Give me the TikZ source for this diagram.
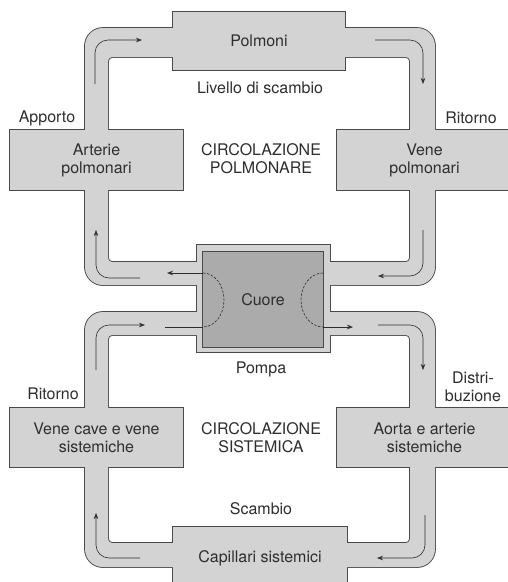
\documentclass[tikz,border=0pt]{standalone}
\usepackage{fontspec}
\setmainfont{TeX Gyre Heros}
\usetikzlibrary{arrows.meta}
\pgfdeclarelayer{outline}
\pgfdeclarelayer{fillarea}
\pgfsetlayers{outline,fillarea,main}
\definecolor{ringfill}{HTML}{D3D3D3}
\definecolor{edge}{HTML}{4A4A4A}
\definecolor{heartfill}{HTML}{ABABAB}
\definecolor{ink}{HTML}{2E2E2E}
\begin{document}
\begin{tikzpicture}[x=1pt,y=-1pt,
  lbl/.style={font=\fontsize{16}{18}\selectfont, text=ink, align=center, inner sep=0pt},
  boxnode/.style={lbl, rectangle, minimum width=#1},
  edgeline/.style={draw=edge, line width=1.8pt},
  flow/.style={draw=ink, line width=0.6pt, -{Stealth[length=6pt,width=4.5pt]}},
  plainflow/.style={draw=ink, line width=0.6pt},
  valve/.style={draw=ink, line width=0.6pt, dash pattern=on 2.5pt off 1.5pt}]
\useasboundingbox (0,0) rectangle (507,582);

% boxes (nodes carry the text)
\node[boxnode=172pt, minimum height=58pt] (polm) at (259,41) {Polmoni};
\node[boxnode=173pt, minimum height=60pt] (art) at (96.5,160) {Arterie\\polmonari};
\node[boxnode=175pt, minimum height=60pt] (venp) at (424.5,160) {Vene\\polmonari};
\node[boxnode=173pt, minimum height=59pt] (vcav) at (96.5,437.5) {Vene cave e vene\\sistemiche};
\node[boxnode=175pt, minimum height=59pt] (aorta) at (424.5,437.5) {Aorta e arterie\\sistemiche};
\node[boxnode=174pt, minimum height=63pt] (cap) at (260,558.5) {Capillari sistemici};
\node[boxnode=120pt, minimum height=95pt] (cuore) at (263,299.5) {Cuore};

% plain labels
\node[lbl] (liv) at (260,88) {Livello di scambio};
\node[lbl] (app) at (47,118) {Apporto};
\node[lbl] (rit1) at (471,118) {Ritorno};
\node[lbl] (circp) at (261,159) {CIRCOLAZIONE\\POLMONARE};
\node[lbl] (pompa) at (261,369) {Pompa};
\node[lbl] (rit2) at (53,394) {Ritorno};
\node[lbl] (distr) at (473,387) {Distri-\\buzione};
\node[lbl] (circs) at (261,438) {CIRCOLAZIONE\\SISTEMICA};
\node[lbl] (scam) at (261,509) {Scambio};

% outlines of the union of all shapes
\begin{pgfonlayer}{outline}
  \fill[white] (0,0) rectangle (507,582);
  \draw[edgeline, rounded corners=18pt] (85,28) rectangle (435,285);
  \draw[edgeline, rounded corners=4pt] (108,57) rectangle (410,262);
  \draw[edgeline, rounded corners=18pt] (85,312) rectangle (435,567);
  \draw[edgeline, rounded corners=4pt] (108,335) rectangle (410,543);
  \foreach \n in {polm,art,venp,vcav,aorta,cap}
    \draw[edgeline] (\n.north west) rectangle (\n.south east);
  \draw[edgeline] (197,245) rectangle (330,352);
\end{pgfonlayer}

% fills
\begin{pgfonlayer}{fillarea}
  \fill[ringfill, even odd rule, rounded corners=18pt] (85,28) rectangle (435,285)
     [rounded corners=4pt] (108,57) rectangle (410,262);
  \fill[ringfill, even odd rule, rounded corners=18pt] (85,312) rectangle (435,567)
     [rounded corners=4pt] (108,335) rectangle (410,543);
  \foreach \n in {polm,art,venp,vcav,aorta,cap}
    \fill[ringfill] (\n.north west) rectangle (\n.south east);
  \fill[ringfill] (197,245) rectangle (330,352);
  \draw[fill=heartfill, draw=edge, line width=0.9pt] (cuore.north west) rectangle (cuore.south east);
\end{pgfonlayer}

% flow arrows, pulmonary loop
\draw[flow, rounded corners=13pt] (95,84) -- (95,40) -- (142,40);
\draw[flow, rounded corners=13pt] (375,40) -- (423,40) -- (423,84);
\draw[flow, rounded corners=13pt] (423,230) -- (423,276) -- (378,276);
\draw[flow, rounded corners=13pt] (140,278) -- (96,278) -- (96,230);
\draw[flow] (203,273) -- (167,273);

% heart valves
\draw[valve] (203,273) arc[start angle=-90, end angle=90, x radius=21, y radius=27];
\draw[valve] (323,273) arc[start angle=270, end angle=90, x radius=22, y radius=27];

% flow arrows, systemic loop
\draw[plainflow] (165,327) -- (203,327);
\draw[flow] (323,327) -- (353,327);
\draw[flow, rounded corners=13pt] (96,370) -- (96,325) -- (145,325);
\draw[flow, rounded corners=13pt] (378,325) -- (423,325) -- (423,370);
\draw[flow, rounded corners=13pt] (425,515) -- (425,558) -- (377,558);
\draw[flow, rounded corners=13pt] (140,558) -- (96,558) -- (96,513);
\end{tikzpicture}
\end{document}
